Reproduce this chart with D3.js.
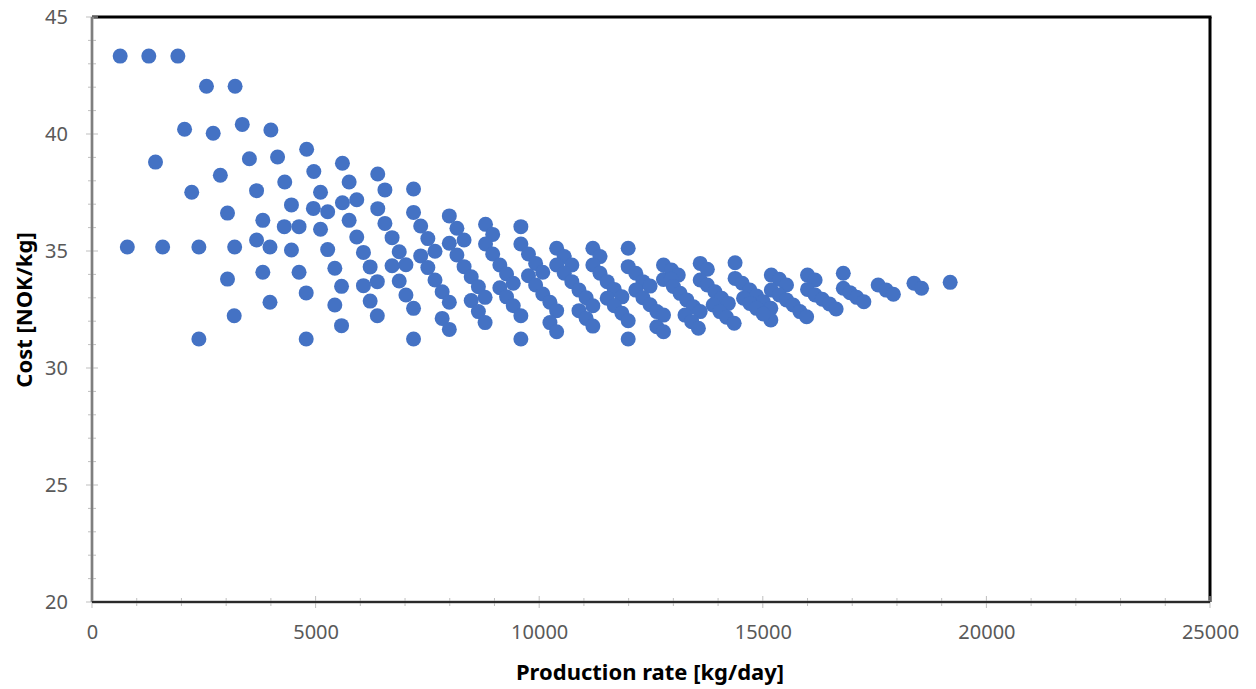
<!DOCTYPE html>
<html>
<head>
<meta charset="utf-8">
<script src="https://cdn.jsdelivr.net/npm/d3@7"></script>
<style>
  body { margin: 0; background: #fff; }
  text { font-family: "Noto Sans", sans-serif; }
</style>
</head>
<body>
<script>
// production rate [kg/day]
var rate = [
  630,1270,1920, 2560,3200,
  2070,2710,3360,4000, 1420,3520,4150,4800, 2870,
  2230,3680,4310,4960,5600,
  3030,3820,4460,5110,5750,6390,
  4950,5270,5600,5920,6390,
  4300,4630,5110,5750,
  790,1580,2390,3190,
  3680,3980,4460,5270,5920,6070,6220,6380,
  5430,3820,4630,5580,6070,
  3030,4790,3980,5430,6220,6380,
  3180,5580,2390,4790,
  6550,6550,6710,6870,7020,6710,6870,7020,7190,7190,
  7190,7190,7350,7510,7670,7350,7510,7670,7830,7990,7830,7990,
  7990,8160,8320,7990,8160,8320,8480,8640,8790,8480,8640,8790,
  8800,8960,8800,8960,9120,9270,9420,9120,9270,9420,9590,
  9590,9590,9760,9920,10080,9760,9920,10080,10240,10390,9590,10240,10390,
  10390,10560,10730,10390,10560,10730,10890,11050,11200,10890,11050,11200,
  11200,11360,11200,11360,11520,11680,11850,11520,11680,11850,11990,
  11990,11990,12160,12320,12480,11990,12160,12320,12480,12630,12630,12780,12780,12780,
  12780,12960,13110,12950,13000,13150,13300,13450,13600,13260,13410,13560,
  13600,13760,13600,13760,13930,14080,14230,13890,14040,14190,14360,
  14380,14380,14540,14710,14860,15010,15180,15180,14570,14710,14860,15010,
  15190,15370,15530,15190,15370,15530,15680,15830,15980,
  16000,16170,16000,16170,16330,16490,16640,
  16800,16800,16950,17100,17260,
  17580,17760,17920,
  18380,18550,
  19190
];

// cost [NOK/kg]
var cost = [
  43.33,43.33,43.33, 42.04,42.04,
  40.20,40.03,40.41,40.17, 38.80,38.94,39.02,39.35, 38.24,
  37.51,37.58,37.95,38.40,38.75,
  36.62,36.31,36.97,37.51,37.95,38.29,
  36.82,36.68,37.06,37.19,36.81,
  36.04,36.04,35.93,36.31,
  35.17,35.17,35.17,35.17,
  35.47,35.17,35.04,35.06,35.60,34.94,34.32,33.69,
  34.26,34.09,34.09,33.49,33.52,
  33.80,33.21,32.81,32.69,32.86,32.23,
  32.23,31.81,31.24,31.24,
  37.61,36.18,35.57,34.97,34.41,34.37,33.72,33.12,32.55,31.24,
  37.65,36.65,36.07,35.53,34.99,34.79,34.29,33.76,33.26,32.81,32.12,31.65,
  36.50,35.97,35.47,35.33,34.83,34.33,33.90,33.47,33.02,32.88,32.41,31.94,
  36.14,35.71,35.30,34.87,34.40,34.02,33.62,33.43,33.04,32.66,32.23,
  36.04,35.30,34.87,34.47,34.09,33.94,33.55,33.16,32.81,32.45,31.24,31.94,31.55,
  35.12,34.76,34.40,34.40,34.05,33.69,33.33,33.00,32.66,32.45,32.12,31.79,
  35.12,34.76,34.40,34.05,33.69,33.36,33.04,32.98,32.66,32.34,32.02,
  35.12,34.33,34.05,33.69,33.50,31.24,33.33,33.00,32.70,32.41,31.76,31.55,34.40,32.26,
  33.78,34.19,33.97,33.79,33.48,33.19,32.91,32.62,32.41,32.26,31.98,31.70,
  34.47,34.22,33.76,33.55,33.26,32.98,32.76,32.69,32.41,32.17,31.91,
  34.50,33.83,33.62,33.33,33.08,32.83,32.55,32.05,32.98,32.76,32.55,32.31,
  33.97,33.79,33.55,33.33,33.12,32.91,32.69,32.41,32.19,
  33.97,33.76,33.36,33.12,32.94,32.74,32.52,
  34.05,33.41,33.22,33.02,32.83,
  33.55,33.33,33.15,
  33.62,33.41,
  33.66
];

var xMajor = [0, 5000, 10000, 15000, 20000, 25000];
var yMajor = [20, 25, 30, 35, 40, 45];
var xTitle = "Production rate [kg/day]";
var yTitle = "Cost [NOK/kg]";

var W = 1256, H = 689;
// plot area edges (window.top is taken, so use own names)
var pL = 92, pR = 1210, pT = 17, pB = 602;

var svg = d3.select("body").append("svg")
  .attr("width", W).attr("height", H);

var x = d3.scaleLinear().domain([0, 25000]).range([pL, pR]);
var y = d3.scaleLinear().domain([20, 45]).range([pB, pT]);

// black frame on top and right
svg.append("line").attr("x1", pL).attr("x2", pR + 1.5).attr("y1", pT).attr("y2", pT)
  .attr("stroke", "#000").attr("stroke-width", 3);
svg.append("line").attr("x1", pR).attr("x2", pR).attr("y1", pT).attr("y2", pB)
  .attr("stroke", "#000").attr("stroke-width", 3);

// minor ticks (cross the axis line)
var xMinor = d3.range(0, 25001, 1000);
var yMinor = d3.range(20, 45.01, 1);

svg.append("g").selectAll("line").data(xMinor).enter().append("line")
  .attr("x1", function(d) { return x(d); }).attr("x2", function(d) { return x(d); })
  .attr("y1", function(d) { return xMajor.indexOf(d) >= 0 ? pB - 6 : pB - 4; })
  .attr("y2", function(d) { return xMajor.indexOf(d) >= 0 ? pB + 6 : pB + 4; })
  .attr("stroke", "#bfbfbf").attr("stroke-width", 1);

svg.append("g").selectAll("line").data(yMinor).enter().append("line")
  .attr("y1", function(d) { return y(d); }).attr("y2", function(d) { return y(d); })
  .attr("x1", function(d) { return yMajor.indexOf(d) >= 0 ? pL - 6 : pL - 4; })
  .attr("x2", function(d) { return yMajor.indexOf(d) >= 0 ? pL + 6 : pL + 4; })
  .attr("stroke", "#bfbfbf").attr("stroke-width", 1);

// axis lines
svg.append("line").attr("x1", pL).attr("x2", pL).attr("y1", pT).attr("y2", pB)
  .attr("stroke", "#a6a6a6").attr("stroke-width", 3);
svg.append("line").attr("x1", pL).attr("x2", pL).attr("y1", pT).attr("y2", pB)
  .attr("stroke", "#595959").attr("stroke-width", 1);
svg.append("line").attr("x1", pL).attr("x2", pR).attr("y1", pB).attr("y2", pB)
  .attr("stroke", "#a6a6a6").attr("stroke-width", 3);
svg.append("line").attr("x1", pL).attr("x2", pR).attr("y1", pB).attr("y2", pB)
  .attr("stroke", "#000").attr("stroke-width", 1.5);

// tick labels
var xAxis = d3.axisBottom(x).tickValues(xMajor).tickSize(0).tickPadding(23).tickFormat(d3.format("d"));
var gx = svg.append("g").attr("transform", "translate(0," + pB + ")").call(xAxis);
gx.select(".domain").remove();
gx.selectAll("text").attr("fill", "#595959").style("font-size", "20px");

var yAxis = d3.axisLeft(y).tickValues(yMajor).tickSize(0).tickPadding(24);
var gy = svg.append("g").attr("transform", "translate(" + pL + ",0)").call(yAxis);
gy.select(".domain").remove();
gy.selectAll("text").attr("fill", "#595959").style("font-size", "20px");

// points
svg.append("g").selectAll("circle").data(rate).enter().append("circle")
  .attr("cx", function(d) { return x(d); })
  .attr("cy", function(d, i) { return y(cost[i]); })
  .attr("r", 7.5)
  .attr("fill", "#4472c4");

// axis titles
svg.append("text").attr("x", 650).attr("y", 680)
  .attr("text-anchor", "middle").style("font-size", "22px").style("font-weight", "bold")
  .text(xTitle);
svg.append("text").attr("transform", "translate(32,310) rotate(-90)")
  .attr("text-anchor", "middle").style("font-size", "22px").style("font-weight", "bold")
  .text(yTitle);
</script>
</body>
</html>
